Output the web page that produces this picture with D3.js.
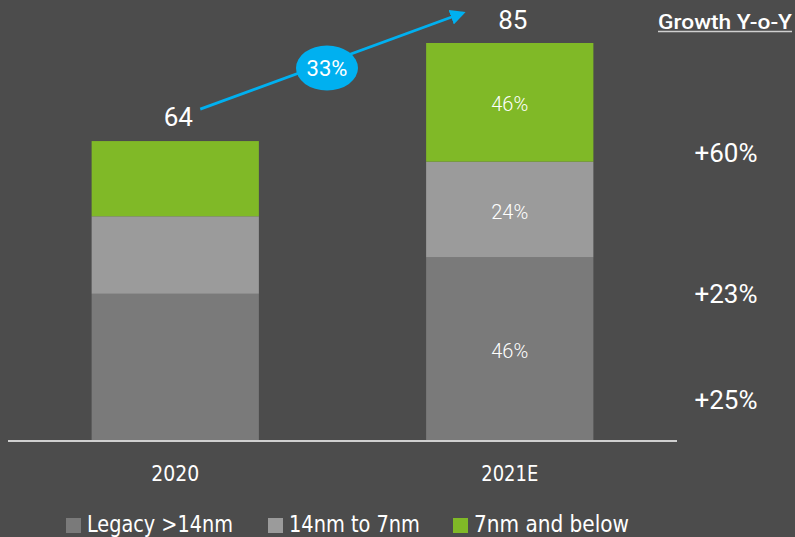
<!DOCTYPE html>
<html><head><meta charset="utf-8">
<script src="https://cdn.jsdelivr.net/npm/d3@7"></script>
<style>
html,body{margin:0;padding:0;background:#4c4c4c;}
svg{display:block;}
</style></head>
<body>
<svg id="chart" width="795" height="537"></svg>
<script>
const categories = ["2020", "2021E"];
const seriesNames = ["Legacy >14nm", "14nm to 7nm", "7nm and below"];
const legacy = [31.3, 39.1];
const mid = [16.6, 20.5];
const advanced = [16.1, 25.4];
const totals = [64, 85];
const shareLabels2021 = ["46%", "24%", "46%"]; // legacy, mid, advanced (as printed)
const growthLabels = ["+25%", "+23%", "+60%"]; // legacy, mid, advanced
const totalGrowth = "33%";
const colors = ["#7a7a7a", "#9b9b9b", "#80b927"];

const svg = d3.select("#chart");
const W = 795, H = 537;
svg.append("rect").attr("width", W).attr("height", H).attr("fill", "#4c4c4c");

const x = d3.scaleBand().domain(categories).range([8, 677]).paddingInner(0.5).paddingOuter(0.25);
const y = d3.scaleLinear().domain([0, 85]).range([440, 43]);

const rows = categories.map((c, i) => ({cat: c, legacy: legacy[i], mid: mid[i], advanced: advanced[i]}));
const stack = d3.stack().keys(["legacy", "mid", "advanced"])(rows);

const g = svg.append("g");
stack.forEach((layer, li) => {
  g.selectAll(null).data(layer).join("rect")
    .attr("x", d => x(d.data.cat))
    .attr("width", x.bandwidth())
    .attr("y", d => y(d[1]))
    .attr("height", d => y(d[0]) - y(d[1]))
    .attr("fill", colors[li]);
});

// segment labels for 2021E
stack.forEach((layer, li) => {
  const d = layer[1];
  g.append("text")
    .attr("x", x(d.data.cat) + x.bandwidth() / 2)
    .attr("y", (y(d[0]) + y(d[1])) / 2 + 9)
    .attr("text-anchor", "middle")
    .attr("font-family", "Roboto, 'Open Sans', sans-serif")
    .attr("font-weight", 300)
    .attr("font-size", 20)
    .attr("fill", "#ffffff")
    .text(shareLabels2021[li]);
});

// baseline axis
const axis = d3.axisBottom(x).tickSize(0).tickPadding(0);
const ax = svg.append("g").attr("transform", `translate(0,${y(0) + 1})`).call(axis);
ax.select(".domain").attr("stroke", "#d0d0d0").attr("stroke-width", 2.2).attr("d", "M8,0H677");
ax.selectAll(".tick text")
  .attr("y", 40)
  .attr("dy", 0)
  .attr("fill", "#ffffff")
  .attr("font-family", "'Liberation Sans Narrow', 'DejaVu Sans Condensed', 'Roboto', sans-serif")
  .attr("font-size", 22)
  .attr("textLength", 48)
  .attr("lengthAdjust", "spacingAndGlyphs")
  .each(function(d){ if (d === "2021E") d3.select(this).attr("textLength", 57); });

// totals
totals.forEach((t, i) => {
  svg.append("text")
    .attr("x", x(categories[i]) + x.bandwidth() / 2 + 3)
    .attr("y", y(t) - (i === 0 ? 15 : 14))
    .attr("text-anchor", "middle")
    .attr("font-family", "Roboto, 'Open Sans', sans-serif")
    .attr("font-size", 26)
    .attr("fill", "#ffffff")
    .text(t);
});

// growth arrow
const blue = "#00b0f0";
const defs = svg.append("defs");
defs.append("marker").attr("id", "arrow").attr("viewBox", "0 0 10 10")
  .attr("refX", 8).attr("refY", 5).attr("markerWidth", 5.5).attr("markerHeight", 5.5)
  .attr("orient", "auto-start-reverse").attr("markerUnits", "strokeWidth")
  .append("path").attr("d", "M0,0L10,5L0,10z").attr("fill", blue);
const x0 = x(categories[0]) + x.bandwidth() / 2 + 25, y0 = y(totals[0]) - 32;
const x1 = x(categories[1]) + x.bandwidth() / 2 - 47, y1 = y(totals[1]) - 30;
svg.append("line").attr("x1", x0).attr("y1", y0).attr("x2", x1).attr("y2", y1)
  .attr("stroke", blue).attr("stroke-width", 2.8).attr("marker-end", "url(#arrow)");
const ex = 327, ey = 68;
svg.append("ellipse").attr("cx", ex).attr("cy", ey).attr("rx", 31).attr("ry", 22.5).attr("fill", blue);
svg.append("text").attr("x", ex).attr("y", ey + 8).attr("text-anchor", "middle")
  .attr("font-family", "Roboto, 'Open Sans', sans-serif").attr("font-size", 22)
  .attr("fill", "#ffffff").text(totalGrowth);

// Growth header
svg.append("text").attr("x", 658).attr("y", 29)
  .attr("font-family", "Roboto, 'Open Sans', sans-serif").attr("font-weight", 500)
  .attr("font-size", 20).attr("fill", "#ffffff")
  .attr("textLength", 134).attr("lengthAdjust", "spacingAndGlyphs")
  .text("Growth Y-o-Y");
svg.append("line").attr("x1", 658).attr("x2", 792).attr("y1", 31.5).attr("y2", 31.5)
  .attr("stroke", "#cfcfcf").attr("stroke-width", 1.5);

// growth labels
const gBase = [409, 303, 162];
growthLabels.forEach((lab, i) => {
  svg.append("text").attr("x", 726).attr("y", gBase[i]).attr("text-anchor", "middle")
    .attr("font-family", "Roboto, 'Open Sans', sans-serif").attr("font-size", 26)
    .attr("fill", "#ffffff").text(lab);
});

// legend
const legendX = [66, 268, 453];
const legendW = [146, 131, 155];
seriesNames.forEach((n, i) => {
  svg.append("rect").attr("x", legendX[i]).attr("y", 518).attr("width", 15).attr("height", 15).attr("fill", colors[i]);
  svg.append("text").attr("x", legendX[i] + 21).attr("y", 532)
    .attr("font-family", "'Liberation Sans Narrow', 'DejaVu Sans Condensed', 'Roboto', sans-serif")
    .attr("font-size", 23).attr("fill", "#ffffff")
    .attr("textLength", legendW[i]).attr("lengthAdjust", "spacingAndGlyphs")
    .text(n);
});
</script>
</body></html>
